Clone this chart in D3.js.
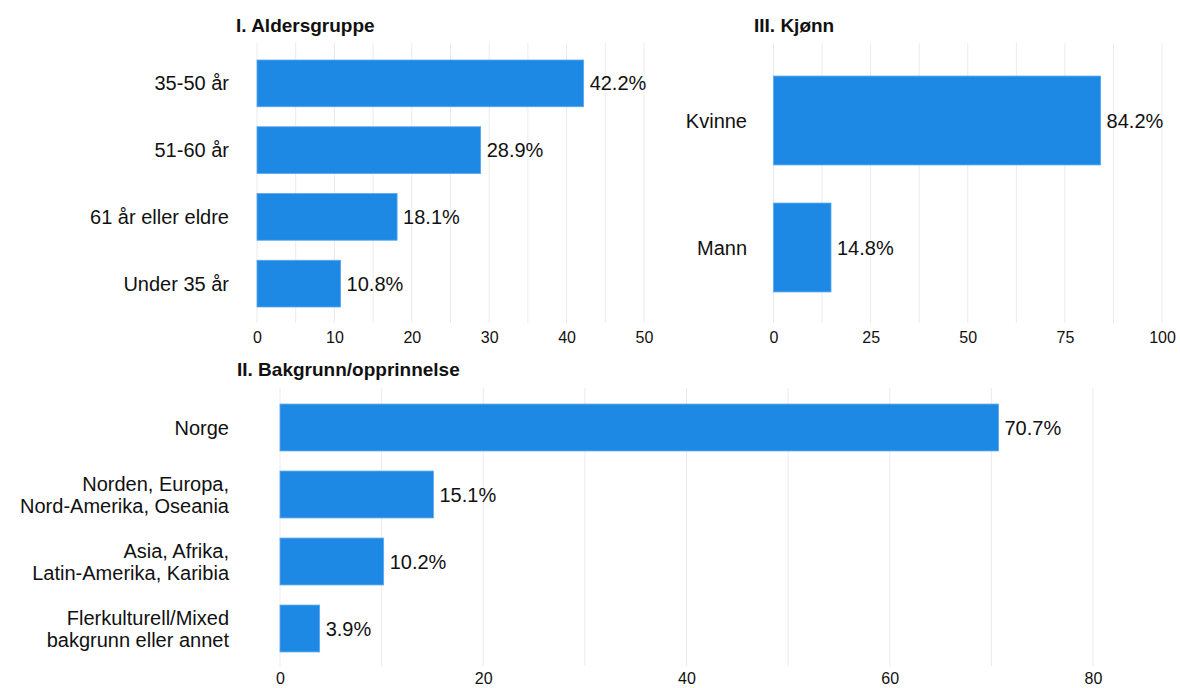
<!DOCTYPE html>
<html><head><meta charset="utf-8">
<script src="https://cdn.jsdelivr.net/npm/d3@7"></script>
<style>
body{margin:0;background:#fff;}
text{font-family:"Liberation Sans",Arial,Helvetica,sans-serif;fill:#111;}
</style></head>
<body><svg id="c" width="1180" height="688"></svg>
<script>
const ageCats = ["35-50 år","51-60 år","61 år eller eldre","Under 35 år"];
const ageVals = [42.2,28.9,18.1,10.8];
const ageTicks = [0,10,20,30,40,50];
const ageGrid = [0,5,10,15,20,25,30,35,40,45,50];

const genderCats = ["Kvinne","Mann"];
const genderVals = [84.2,14.8];
const genderTicks = [0,25,50,75,100];
const genderGrid = [0,12.5,25,37.5,50,62.5,75,87.5,100];

const bgCats = [["Norge"],["Norden, Europa,","Nord-Amerika, Oseania"],["Asia, Afrika,","Latin-Amerika, Karibia"],["Flerkulturell/Mixed","bakgrunn eller annet"]];
const bgVals = [70.7,15.1,10.2,3.9];
const bgTicks = [0,20,40,60,80];
const bgGrid = [0,10,20,30,40,50,60,70,80];

const svg = d3.select("#c");
const color = "#1e88e5";

function panel(o){
  const g = svg.append("g");
  const x = d3.scaleLinear().domain(o.domain).range(o.xr);
  const y = d3.scaleBand().domain(d3.range(o.vals.length)).range(o.yr).paddingInner(0.3).paddingOuter(0.15);
  g.selectAll(".grid").data(o.grid).join("line")
    .attr("x1",d=>x(d)).attr("x2",d=>x(d))
    .attr("y1",o.gy[0]).attr("y2",o.gy[1])
    .attr("stroke","#ebebeb").attr("stroke-width",1);
  const ax = g.append("g").attr("transform",`translate(0,${o.gy[1]})`)
    .call(d3.axisBottom(x).tickValues(o.ticks).tickSize(0).tickPadding(o.tp).tickFormat(d3.format("d")));
  ax.select(".domain").remove();
  ax.selectAll("text").style("font-size","16px").style("font-family","Liberation Sans, Arial, sans-serif").attr("fill","#111");
  g.selectAll(".bar").data(o.vals).join("rect")
    .attr("x",x(0)).attr("y",(d,i)=>y(i)).attr("width",d=>x(d)-x(0)).attr("height",y.bandwidth())
    .attr("fill",color).attr("stroke","#5aa8ef").attr("stroke-width",0.8);
  g.selectAll(".val").data(o.vals).join("text")
    .attr("x",d=>x(d)+6).attr("y",(d,i)=>y(i)+y.bandwidth()/2).attr("dy","0.35em")
    .style("font-size","20px").text(d=>d.toFixed(1)+"%");
  o.cats.forEach((c,i)=>{
    const lines = Array.isArray(c)?c:[c];
    const t = g.append("text").attr("text-anchor","end").style("font-size","20px")
      .attr("x",o.labelX);
    const cy = y(i)+y.bandwidth()/2;
    const lh = 22;
    lines.forEach((l,j)=>{
      t.append("tspan").attr("x",o.labelX)
        .attr("y",cy + (j-(lines.length-1)/2)*lh).attr("dy","0.35em").text(l);
    });
  });
  svg.append("text").attr("x",o.titleX).attr("y",o.titleY)
    .style("font-size","19px").style("font-weight","bold").text(o.title);
}

panel({title:"I. Aldersgruppe",titleX:236,titleY:32,cats:ageCats,vals:ageVals,domain:[0,50],xr:[257,644],
  yr:[50,317],gy:[43,323],ticks:ageTicks,grid:ageGrid,labelX:229,tp:9});
panel({title:"III. Kjønn",titleX:754,titleY:32,cats:genderCats,vals:genderVals,domain:[0,100],xr:[773.5,1162],
  yr:[57,311],gy:[43,323],ticks:genderTicks,grid:genderGrid,labelX:747,tp:9});
panel({title:"II. Bakgrunn/opprinnelse",titleX:237,titleY:376,cats:bgCats,vals:bgVals,domain:[0,80],xr:[280,1093],
  yr:[394,662],gy:[388,666],ticks:bgTicks,grid:bgGrid,labelX:229,tp:7});
</script></body></html>
